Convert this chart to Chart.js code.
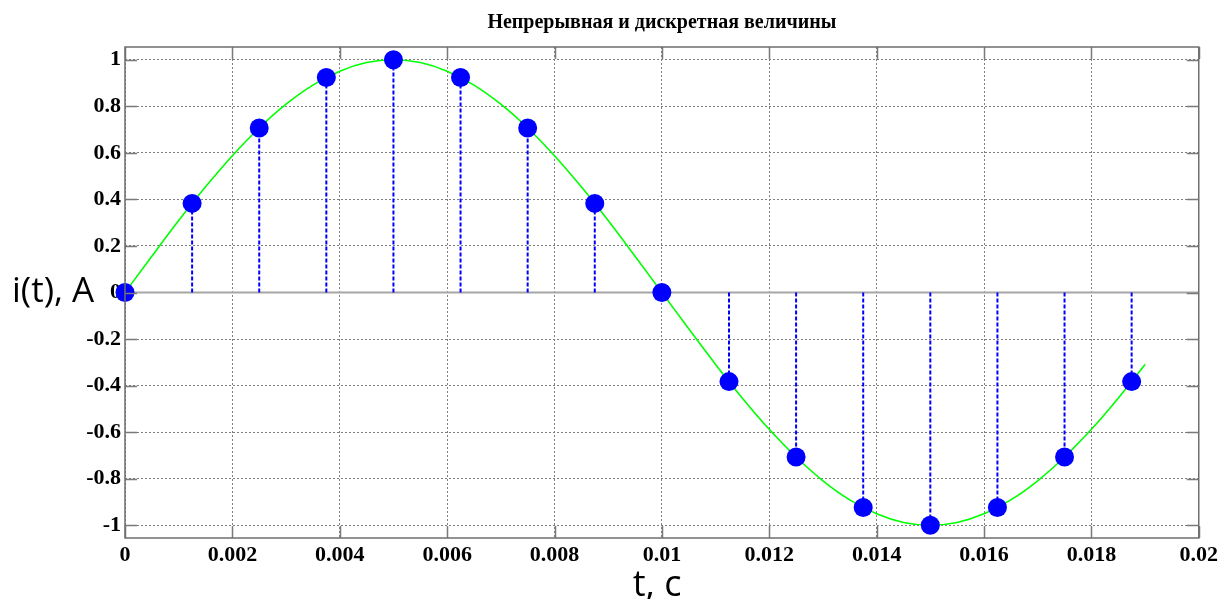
<!DOCTYPE html>
<html>
<head>
<meta charset="utf-8">
<script src="https://cdn.jsdelivr.net/npm/chart.js@4.4.1/dist/chart.umd.min.js"></script>
<style>
html,body{margin:0;padding:0;background:#fff;}
#wrap{width:1222px;height:599px;position:relative;}
</style>
</head>
<body>
<div id="wrap"><canvas id="c"></canvas></div>
<script>
// ---- data ----
const titleText = "Непрерывная и дискретная величины";
const xLabelText = "t, c";
const yLabelText = "i(t), A";

// continuous signal
const curveT = [0,0.0005,0.001,0.0015,0.002,0.0025,0.003,0.0035,0.004,0.0045,0.005,0.0055,0.006,0.0065,0.007,0.0075,0.008,0.0085,0.009,0.0095,0.01,0.0105,0.011,0.0115,0.012,0.0125,0.013,0.0135,0.014,0.0145,0.015,0.0155,0.016,0.0165,0.017,0.0175,0.018,0.0185,0.019];
const curveI = [0,0.156,0.309,0.454,0.588,0.707,0.809,0.891,0.951,0.988,1,0.988,0.951,0.891,0.809,0.707,0.588,0.454,0.309,0.156,0,-0.156,-0.309,-0.454,-0.588,-0.707,-0.809,-0.891,-0.951,-0.988,-1,-0.988,-0.951,-0.891,-0.809,-0.707,-0.588,-0.454,-0.309];

// discrete samples (blue stems)
const sampleT = [0,0.00125,0.0025,0.00375,0.005,0.00625,0.0075,0.00875,0.01,0.01125,0.0125,0.01375,0.015,0.01625,0.0175,0.01875];
const sampleI = [0,0.383,0.707,0.924,1,0.924,0.707,0.383,0,-0.383,-0.707,-0.924,-1,-0.924,-0.707,-0.383];

// ticks
const xTicks = [0,0.002,0.004,0.006,0.008,0.01,0.012,0.014,0.016,0.018,0.02];
const xTickLabels = ["0","0.002","0.004","0.006","0.008","0.01","0.012","0.014","0.016","0.018","0.02"];
const yTicks = [-1,-0.8,-0.6,-0.4,-0.2,0,0.2,0.4,0.6,0.8,1];
const yTickLabels = ["-1","-0.8","-0.6","-0.4","-0.2","0","0.2","0.4","0.6","0.8","1"];

// ---- build datasets ----
const curveData = curveT.map((t,i)=>({x:t,y:curveI[i]}));
const markerData = sampleT.map((t,i)=>({x:t,y:sampleI[i]}));
const stemData = [];
sampleT.forEach((t,i)=>{ stemData.push({x:t,y:0}); stemData.push({x:t,y:sampleI[i]}); stemData.push({x:t,y:null}); });
const baseData = [{x:xTicks[0],y:0},{x:xTicks[xTicks.length-1],y:0}];

const serif = '"Liberation Serif","Times New Roman",serif';
const sans = '"Open Sans","Noto Sans",sans-serif';

const decor = {
  id:'decor',
  afterDraw(chart){
    const ctx = chart.ctx, a = chart.chartArea;
    const xs = chart.scales.x, ys = chart.scales.y;
    ctx.save();
    // inward tick marks
    ctx.strokeStyle = '#7a7a7a'; ctx.lineWidth = 1.5;
    ctx.beginPath();
    yTicks.forEach(v=>{ const p = Math.round(ys.getPixelForValue(v))+0.5;
      ctx.moveTo(a.left,p); ctx.lineTo(a.left+12,p);
      ctx.moveTo(a.right,p); ctx.lineTo(a.right-12,p); });
    xTicks.forEach(v=>{ const p = Math.round(xs.getPixelForValue(v))+0.5;
      ctx.moveTo(p,a.bottom); ctx.lineTo(p,a.bottom-12);
      ctx.moveTo(p,a.top); ctx.lineTo(p,a.top+12); });
    ctx.stroke();
    // box
    ctx.strokeStyle = '#6e6e6e'; ctx.lineWidth = 1.5;
    ctx.strokeRect(a.left, a.top, a.right-a.left, a.bottom-a.top);
    ctx.restore();
  }
};

const labels = {
  id:'labels',
  afterDraw(chart){
    const ctx = chart.ctx, a = chart.chartArea;
    ctx.save();
    ctx.fillStyle = '#000';
    ctx.font = 'bold 20px ' + serif;
    ctx.textAlign = 'center'; ctx.textBaseline = 'alphabetic';
    ctx.fillText(titleText, (a.left+a.right)/2, 28);
    ctx.font = '36px ' + sans;
    ctx.fillText(xLabelText, 657, 596);
    ctx.textAlign = 'left';
    ctx.font = '35px ' + sans;
    ctx.fillText(yLabelText, 12, 302);
    ctx.restore();
  }
};

new Chart(document.getElementById('c'), {
  type:'line',
  data:{ datasets:[
    {label:'samples', type:'scatter', data:markerData, showLine:false, pointRadius:9.5, pointHoverRadius:9.5,
      pointBackgroundColor:'#0000ff', pointBorderColor:'#0000ff', pointBorderWidth:0, order:0, clip:false},
    {label:'stems', data:stemData, borderColor:'#0000ff', borderWidth:2, borderDash:[4,2], pointRadius:0,
      spanGaps:false, tension:0, order:1},
    {label:'signal', data:curveData, borderColor:'#00ff00', borderWidth:1.6, pointRadius:0, tension:0.4,
      cubicInterpolationMode:'monotone', order:2},
    {label:'base', data:baseData, borderColor:'#a6a6a6', borderWidth:2, pointRadius:0, order:3}
  ]},
  options:{
    responsive:true, maintainAspectRatio:false, animation:false,
    layout:{padding:{top:47,right:23,left:0,bottom:0}},
    plugins:{legend:{display:false}, title:{display:false}, tooltip:{enabled:false}},
    scales:{
      x:{type:'linear', min:0, max:0.02,
        afterBuildTicks(s){ s.ticks = xTicks.map(v=>({value:v})); },
        afterFit(s){ s.height = 61; },
        ticks:{ callback:(v,i)=>xTickLabels[i], font:{family:serif, size:22, weight:'bold'}, color:'#000', padding:4, maxRotation:0, autoSkip:false },
        grid:{ color:'#7f7f7f', lineWidth:1, drawTicks:false },
        border:{ display:false, dash:[2,2] }
      },
      y:{type:'linear', min:-1.055, max:1.055,
        afterBuildTicks(s){ s.ticks = yTicks.map(v=>({value:v})); },
        afterFit(s){ s.width = 125; },
        ticks:{ callback:(v,i)=>yTickLabels[i], font:{family:serif, size:22, weight:'bold'}, color:'#000', padding:4, autoSkip:false },
        grid:{ color:'#7f7f7f', lineWidth:1, drawTicks:false },
        border:{ display:false, dash:[2,2] }
      }
    }
  },
  plugins:[decor, labels]
});
</script>
</body>
</html>
